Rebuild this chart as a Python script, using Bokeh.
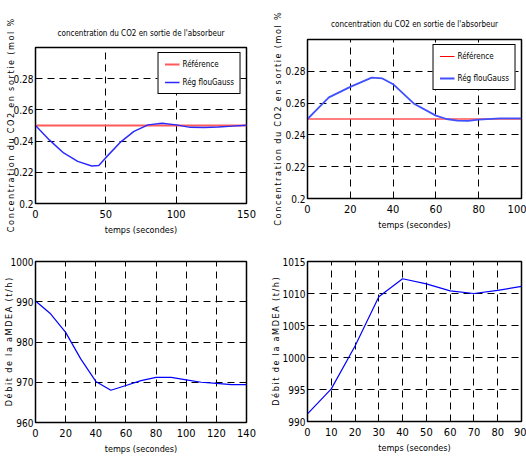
from bokeh.plotting import figure
from bokeh.layouts import column, row
from bokeh.models import Range1d, PrintfTickFormatter, Legend, LegendItem
from bokeh.embed import file_html
from bokeh.resources import INLINE

FONT = "DejaVu Sans Condensed, Liberation Sans, sans-serif"
THIN = "\u2009"
NB = "\u00a0"

title_text = "concentration du CO2 en sortie de l'absorbeur"
xlabel = "temps (secondes)"
ylabel_co2_words = ["Concentration", "du", "CO2", "en", "sortie", "(mol", "%"]
ylabel_deb_words = ["Débit", "de", "la", "aMDEA", "(t/h)"]
legend_ref = "Référence"
legend_reg = "Rég flouGauss"


def spaced(words):
    return (NB * 2).join(THIN.join(list(w)) for w in words)


ylabel_co2 = spaced(ylabel_co2_words)
ylabel_deb = spaced(ylabel_deb_words)

# Top-left: CO2 concentration (150 s)
t1 = [0, 10, 20, 30, 40, 45, 50, 60, 70, 80, 90, 100, 110, 120, 130, 140, 150]
co2_1 = [0.2500, 0.2406, 0.2324, 0.2270, 0.2240, 0.2243, 0.2294, 0.2390, 0.2462,
         0.2504, 0.2515, 0.2504, 0.2488, 0.2487, 0.2490, 0.2496, 0.2502]
ref_1 = [0.25] * len(t1)

# Top-right: CO2 concentration (100 s)
t2 = [0, 5, 10, 20, 30, 35, 40, 50, 60, 65, 70, 75, 80, 90, 100]
co2_2 = [0.2500, 0.2569, 0.2636, 0.2702, 0.2760, 0.2755, 0.2719, 0.2594, 0.2521,
         0.2500, 0.2490, 0.2488, 0.2496, 0.2504, 0.2504]
ref_2 = [0.25] * len(t2)

# Bottom-left: MDEA flow (140 s)
t3 = [0, 10, 20, 30, 40, 50, 60, 70, 80, 90, 100, 110, 120, 130, 140]
deb_1 = [990.2, 987.0, 982.4, 975.8, 970.2, 968.0, 969.2, 970.4, 971.2, 971.2,
         970.6, 970.0, 969.7, 969.4, 969.4]

# Bottom-right: MDEA flow (90 s)
t4 = [0, 10, 20, 30, 40, 50, 60, 70, 80, 90]
deb_2 = [991.2, 995.1, 1001.8, 1009.5, 1012.3, 1011.5, 1010.4, 1010.0, 1010.5, 1011.1]

xt1 = [0, 50, 100, 150]
yt_co2 = [0.2, 0.22, 0.24, 0.26, 0.28]
xt2 = [0, 20, 40, 60, 80, 100]
xt3 = [0, 20, 40, 60, 80, 100, 120, 140]
yt3 = [960, 970, 980, 990, 1000]
xt4 = [0, 10, 20, 30, 40, 50, 60, 70, 80, 90]
yt4 = [990, 995, 1000, 1005, 1010, 1015]


def make_fig(w, h, xr, yr, xt, yt, mb, ylab, ystand, title=None, tstand=8):
    p = figure(width=w, height=h, x_range=Range1d(*xr), y_range=Range1d(*yr),
               output_backend="svg", toolbar_location=None,
               min_border_left=mb[0], min_border_right=mb[1],
               min_border_top=mb[2], min_border_bottom=mb[3])
    p.xaxis.ticker = xt
    p.yaxis.ticker = yt
    p.axis.formatter = PrintfTickFormatter(format="%g")
    p.axis.major_label_text_font = FONT
    p.yaxis.major_label_text_font_size = "10px"
    p.xaxis.major_label_text_font_size = "11px"
    p.axis.major_label_text_color = "black"
    p.axis.major_tick_in = 4
    p.axis.major_tick_out = 0
    p.axis.minor_tick_in = 0
    p.axis.minor_tick_out = 0
    p.axis.axis_line_color = "black"
    p.axis.major_tick_line_color = "black"
    p.xaxis.major_label_standoff = 6
    p.yaxis.major_label_standoff = 2
    p.axis.axis_label_text_font = FONT
    p.axis.axis_label_text_font_size = "9px"
    p.axis.axis_label_text_font_style = "normal"
    p.axis.axis_label_text_color = "black"
    p.xaxis.axis_label = xlabel
    p.xaxis.axis_label_standoff = 4
    p.yaxis.axis_label = ylab
    p.yaxis.axis_label_standoff = ystand
    p.grid.grid_line_color = "black"
    p.grid.grid_line_dash = "7 5"
    p.grid.grid_line_width = 1
    p.grid.grid_line_alpha = 1
    p.outline_line_color = "black"
    p.outline_line_width = 1.5
    p.outline_line_alpha = 1
    p.background_fill_color = "white"
    p.border_fill_color = "white"
    if title:
        p.title.text = title
        p.title.align = "center"
        p.title.text_font = FONT
        p.title.text_font_size = "8px"
        p.title.text_font_style = "normal"
        p.title.text_color = "black"
        p.title.standoff = tstand
    return p


def add_legend(p, r_ref, r_reg, spacing, padding):
    leg = Legend(items=[LegendItem(label=legend_ref, renderers=[r_ref]),
                        LegendItem(label=legend_reg, renderers=[r_reg])],
                 location="top_right")
    leg.border_line_color = "black"
    leg.border_line_width = 1.5
    leg.border_line_alpha = 1
    leg.background_fill_color = "white"
    leg.background_fill_alpha = 1
    leg.label_text_font = FONT
    leg.label_text_font_size = "8px"
    leg.label_text_color = "black"
    leg.glyph_width = 15
    leg.glyph_height = 10
    leg.label_height = 10
    leg.label_standoff = 3
    leg.spacing = spacing
    leg.padding = padding
    leg.margin = 5
    p.add_layout(leg)


H1, H2 = 238, 218

p1 = make_fig(263, H1, (0, 150), (0.2, 0.3), xt1, yt_co2, (35, 17, 47, 35), ylabel_co2, -6, title_text, 20)
r1 = p1.line(t1, ref_1, line_color="#ff5a5a", line_width=2)
b1 = p1.line(t1, co2_1, line_color="#2a2aff", line_width=1.5)
add_legend(p1, r1, b1, 8, 6)

p2 = make_fig(263, H1, (0, 100), (0.2, 0.3), xt2, yt_co2, (44, 5, 39, 40), ylabel_co2, -1, title_text, 21)
r2 = p2.line(t2, ref_2, line_color="#ff0000", line_width=1.2)
b2 = p2.line(t2, co2_2, line_color="#4050ff", line_width=1.8)
add_legend(p2, r2, b2, 12, 6)

p3 = make_fig(263, H2, (0, 140), (960, 1000), xt3, yt3, (35, 17, 23, 33), ylabel_deb, -6)
p3.line(t3, deb_1, line_color="#0000ff", line_width=1.2)

p4 = make_fig(263, H2, (0, 90), (990, 1015), xt4, yt4, (44, 5, 23, 35), ylabel_deb, -1)
p4.line(t4, deb_2, line_color="#0000ff", line_width=1.2)

layout = row(column(p1, p3), column(p2, p4))

open("out.html", "w").write(file_html(layout, INLINE))
